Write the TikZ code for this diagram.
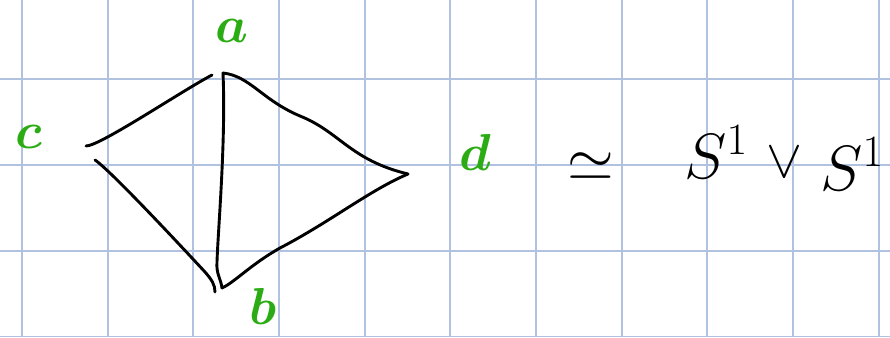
\RequirePackage{fix-cm}
\documentclass[tikz,border=0pt]{standalone}
\definecolor{gridblue}{RGB}{176,194,224}
\definecolor{hgreen}{RGB}{44,172,20}
\begin{document}
\begin{tikzpicture}[x=1pt,y=-1pt,
  edge/.style={line width=2.9pt, black, line cap=round, line join=round},
  gridline/.style={line width=1.8pt, gridblue},
  lbl/.style={text=hgreen, inner sep=0pt, font=\fontsize{52}{52}\selectfont\boldmath},
  expr/.style={inner sep=0pt, font=\fontsize{64}{64}\selectfont}]
\useasboundingbox (0,0) rectangle (890,337);
\fill[white] (0,0) rectangle (890,337);
\foreach \i in {0,...,10} \draw[gridline] ({22+85.67*\i},0) -- ({22+85.67*\i},337);
\foreach \j in {0,...,3} \draw[gridline] (0,{79.3+85.7*\j}) -- (890,{79.3+85.7*\j});
% vertices
\coordinate (a) at (223,73);
\coordinate (a1) at (212,75);
\coordinate (c) at (86,146);
\coordinate (c2) at (95,160);
\coordinate (b) at (222,288);
\coordinate (b2) at (215,292);
\coordinate (d) at (408,174);
% edges
\draw[edge] (c) .. controls (100,146) and (180,92) .. (a1);
\draw[edge] (a) .. controls (226,140) and (218,230) .. (217,262) .. controls (216,274) and (221,279) .. (b);
\draw[edge] (a) .. controls (250,76) and (262,100) .. (300,116) .. controls (340,132) and (350,160) .. (d);
\draw[edge] (d) .. controls (370,190) and (330,222) .. (280,248) .. controls (250,265) and (235,282) .. (b);
\draw[edge] (c2) .. controls (110,170) and (180,245) .. (205,272) .. controls (212,280) and (215,285) .. (b2);
% labels
\node[lbl] (la) at (232,31) {$a$};
\node[lbl] (lc) at (29,137) {$c$};
\node[lbl] (lb) at (263,306) {$b$};
\node[lbl] (ld) at (475,152) {$d$};
\node[expr, font=\fontsize{60}{60}\selectfont] (sim) at (591,167) {$\simeq$};
\node[expr] (s1) at (716,152) {$S^1$};
\node[expr, font=\fontsize{54}{54}\selectfont] (vee) at (784,162) {$\vee$};
\node[expr] (s2) at (852,164) {$S^1$};
\end{tikzpicture}
\end{document}
